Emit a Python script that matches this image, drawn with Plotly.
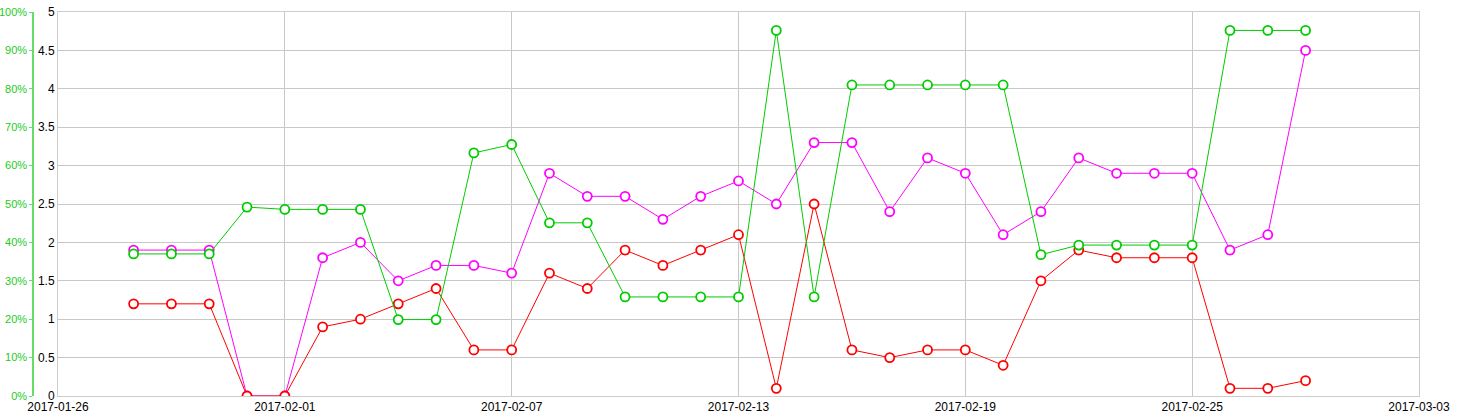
import plotly.graph_objects as go
import pandas as pd

dates = pd.date_range("2017-01-28", "2017-02-28", freq="D").strftime("%Y-%m-%d").tolist()

magenta_vals = [1.9, 1.9, 1.9, 0, 0, 1.8, 2.0, 1.5, 1.7, 1.7, 1.6, 2.9, 2.6, 2.6, 2.3, 2.6,
                2.8, 2.5, 3.3, 3.3, 2.4, 3.1, 2.9, 2.1, 2.4, 3.1, 2.9, 2.9, 2.9, 1.9, 2.1, 4.5]
red_vals = [1.2, 1.2, 1.2, 0, 0, 0.9, 1.0, 1.2, 1.4, 0.6, 0.6, 1.6, 1.4, 1.9, 1.7, 1.9,
            2.1, 0.1, 2.5, 0.6, 0.5, 0.6, 0.6, 0.4, 1.5, 1.9, 1.8, 1.8, 1.8, 0.1, 0.1, 0.2]
green_pct = [37, 37, 37, 49.2, 48.6, 48.6, 48.6, 19.9, 19.9, 63.3, 65.5, 45.1, 45.1, 25.8, 25.8, 25.8,
             25.8, 95.2, 25.8, 81, 81, 81, 81, 81, 36.8, 39.3, 39.3, 39.3, 39.3, 95.2, 95.2, 95.2]

x_ticks = ["2017-01-26", "2017-02-01", "2017-02-07", "2017-02-13", "2017-02-19", "2017-02-25", "2017-03-03"]

GREEN = "#00cc00"
MAG = "#ff00ff"
RED = "#ff0000"

W, H = 1465, 420
ml, mr, mt, mb = 33, 46, 12, 24
plot_left = 58
dom0 = (plot_left - ml) / (W - ml - mr)

def mk(c):
    return dict(symbol="circle", size=9, color="white", line=dict(width=1.8, color=c))

fig = go.Figure()
fig.add_trace(go.Scatter(x=dates, y=magenta_vals, mode="lines+markers",
                         line=dict(color=MAG, width=1), marker=mk(MAG), yaxis="y", showlegend=False))
fig.add_trace(go.Scatter(x=dates, y=red_vals, mode="lines+markers",
                         line=dict(color=RED, width=1), marker=mk(RED), yaxis="y", showlegend=False))
fig.add_trace(go.Scatter(x=dates, y=[v / 100 for v in green_pct], mode="lines+markers",
                         line=dict(color=GREEN, width=1), marker=mk(GREEN), yaxis="y2", showlegend=False))

fig.update_layout(
    width=W, height=H,
    margin=dict(l=ml, r=mr, t=mt, b=mb, autoexpand=False),
    plot_bgcolor="white", paper_bgcolor="white",
    font=dict(family="Liberation Sans, Arial, sans-serif", size=12, color="#000"),
    xaxis=dict(
        domain=[dom0, 1], range=["2017-01-26", "2017-03-03"],
        tickvals=x_ticks, ticktext=x_ticks, tickangle=0,
        showgrid=True, gridcolor="#c8c8c8", gridwidth=1,
        showline=True, linecolor="#cccccc", linewidth=1, mirror=True,
        ticks="", zeroline=False, tickfont=dict(size=12, color="#000"),
        automargin=False,
    ),
    yaxis=dict(
        range=[0, 5], dtick=0.5, tick0=0,
        showgrid=True, gridcolor="#c8c8c8", gridwidth=1,
        showline=True, linecolor="#cccccc", linewidth=1, mirror=True,
        ticks="", zeroline=False, tickfont=dict(size=12, color="#000"),
        anchor="x", automargin=False,
    ),
    yaxis2=dict(
        range=[0, 1], dtick=0.1, tick0=0, tickformat=".0%",
        overlaying="y", side="left", anchor="free", position=0,
        showgrid=False, zeroline=False,
        showline=True, linecolor="#66dd66", linewidth=1.5,
        ticks="outside", ticklen=3, tickcolor="#66dd66",
        tickfont=dict(size=11, color="#22cc22"),
        automargin=False,
    ),
)

fig.write_html("out.html", config={"displayModeBar": False},
               post_script="document.body.style.margin='0';document.body.style.overflow='hidden';")
